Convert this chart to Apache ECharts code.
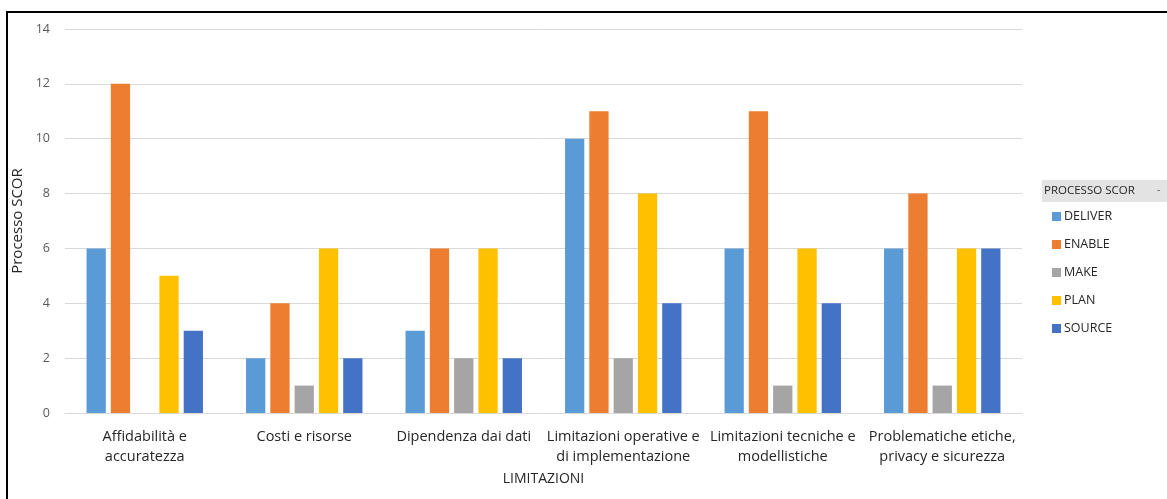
<!DOCTYPE html>
<html>
<head>
<meta charset="utf-8">
<script src="https://cdn.jsdelivr.net/npm/echarts@6/dist/echarts.min.js"></script>
<style>
  html, body { margin: 0; padding: 0; background: #fff; }
  #chart { width: 1167px; height: 499px; }
</style>
</head>
<body>
<div id="chart"></div>
<script>
// Limitation categories (x axis)
const categories = [
  'Affidabilità e\naccuratezza',
  'Costi e risorse',
  'Dipendenza dai dati',
  'Limitazioni operative e\ndi implementazione',
  'Limitazioni tecniche e\nmodellistiche',
  'Problematiche etiche,\nprivacy e sicurezza'
];

// Counts per SCOR process
const deliver = [6, 2, 3, 10, 6, 6];
const enable  = [12, 4, 6, 11, 11, 8];
const make    = [null, 1, 2, 2, 1, 1];
const plan    = [5, 6, 6, 8, 6, 6];
const source  = [3, 2, 2, 4, 4, 6];

const yTicks = { min: 0, max: 14, interval: 2 };

const seriesDefs = [
  { name: 'DELIVER', data: deliver, color: '#5B9BD5' },
  { name: 'ENABLE',  data: enable,  color: '#ED7D31' },
  { name: 'MAKE',    data: make,    color: '#A5A5A5' },
  { name: 'PLAN',    data: plan,    color: '#FFC000' },
  { name: 'SOURCE',  data: source,  color: '#4472C4' }
];

const font = '"Open Sans", "Liberation Sans", sans-serif';

const chart = echarts.init(document.getElementById('chart'), null, { renderer: 'canvas' });

chart.setOption({
  animation: false,
  backgroundColor: '#ffffff',
  textStyle: { fontFamily: font },
  grid: { left: 65, right: 145, top: 29, bottom: 86 },
  xAxis: {
    type: 'category',
    data: categories,
    name: 'LIMITAZIONI',
    nameLocation: 'middle',
    nameGap: 59,
    nameTextStyle: { fontFamily: font, fontSize: 14, color: '#262626' },
    axisLine: { lineStyle: { color: '#d9d9d9', width: 1 } },
    axisTick: { show: false },
    axisLabel: {
      interval: 0,
      fontFamily: font,
      fontSize: 14.5,
      lineHeight: 20,
      color: '#262626',
      margin: 14
    }
  },
  yAxis: {
    type: 'value',
    min: yTicks.min,
    max: yTicks.max,
    interval: yTicks.interval,
    name: 'Processo SCOR',
    nameLocation: 'middle',
    nameGap: 37,
    nameTextStyle: { fontFamily: font, fontSize: 15, color: '#262626' },
    axisLine: { show: false },
    axisTick: { show: false },
    splitLine: { lineStyle: { color: '#d9d9d9', width: 1 } },
    axisLabel: { fontFamily: font, fontSize: 12.5, color: '#595959', margin: 15 }
  },
  legend: {
    orient: 'vertical',
    left: 1047,
    top: 205,
    itemWidth: 9,
    itemHeight: 9,
    itemGap: 15,
    icon: 'rect',
    selectedMode: false,
    textStyle: { fontFamily: font, fontSize: 12.5, color: '#262626', padding: [0, 0, 0, -2] },
    data: seriesDefs.map(s => s.name)
  },
  graphic: [
    {
      type: 'rect',
      shape: { x: 1042, y: 180, width: 125, height: 22 },
      style: { fill: '#e3e3e3' },
      z: 10
    },
    {
      type: 'text',
      style: {
        x: 1044, y: 191, text: 'PROCESSO SCOR',
        font: '11.5px ' + font, fill: '#262626', verticalAlign: 'middle'
      },
      z: 11
    },
    {
      type: 'text',
      style: {
        x: 1157, y: 190, text: '-',
        font: '10px ' + font, fill: '#595959', verticalAlign: 'middle'
      },
      z: 11
    },
    {
      type: 'rect',
      shape: { x: 7, y: 12, width: 1170, height: 500 },
      style: { fill: 'none', stroke: '#000000', lineWidth: 2 },
      z: 20
    }
  ],
  series: seriesDefs.map(s => ({
    name: s.name,
    type: 'bar',
    data: s.data,
    barGap: '26%',
    barCategoryGap: '27%',
    itemStyle: { color: s.color }
  }))
});
</script>
</body>
</html>
